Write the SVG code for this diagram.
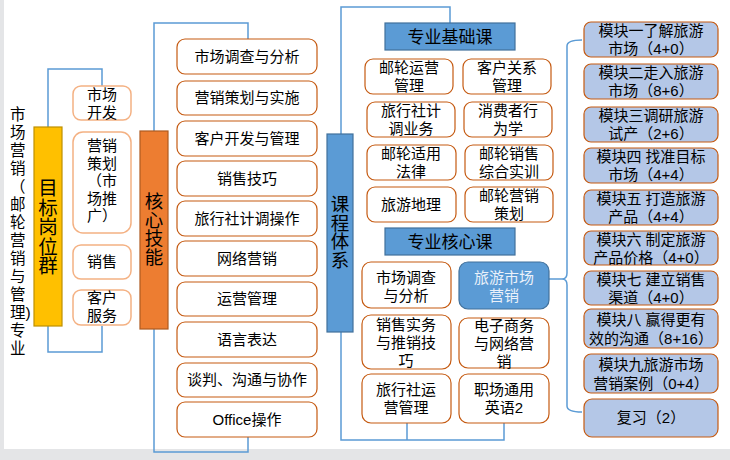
<svg xmlns="http://www.w3.org/2000/svg" width="730" height="460" viewBox="0 0 730 460">
<style>
text{font-family:"Liberation Sans","Noto Sans CJK SC",sans-serif;fill:#000;font-size:15px;text-anchor:middle}
.vt{writing-mode:vertical-rl;text-orientation:upright;font-family:"Noto Sans CJK SC",sans-serif}
.hdr{font-size:17px}
.box{fill:#fff;stroke:#F4B183;stroke-width:1.5}
.sk{fill:#fff;stroke:#C55A11;stroke-width:1.2}
.fd{fill:#fff;stroke:#C55A11;stroke-width:1.2}
.md{fill:#B4C7E7;stroke:#C55A11;stroke-width:1.2}
.bl{fill:#5B9BD5;stroke:#41719C;stroke-width:1.2}
.cn{fill:none;stroke:#5B9BD5;stroke-width:1.5}
</style>
<rect x="0" y="0" width="730" height="460" fill="#E4E5E7"/>
<rect x="4" y="0" width="726" height="449" fill="#fff"/>

<g id="connectors">
<path class="cn" d="M48 127 V69 H102 V86 M48 326 V352 H102 V326"/>
<path class="cn" d="M154 131 V23 H248 V39 M154 329 V452 H248 V437"/>
<path class="cn" d="M341 134 V7 H450 V23 M341 332 V440 H504 V423 M407 440 V423"/>
<path class="cn" d="M549 279 H562 Q567 279 567 273 V46 Q567 40 582 40 M562 279 Q567 279 567 285 V406 Q567 412 582 412"/>
</g>

<g id="title">
<text style="text-anchor:start;font-size:15.5px"><tspan x="10" y="120">市</tspan><tspan x="10" y="138">场</tspan><tspan x="10" y="156">营</tspan><tspan x="10" y="174">销</tspan><tspan x="10" y="192">（</tspan><tspan x="10" y="210">邮</tspan><tspan x="10" y="228">轮</tspan><tspan x="10" y="246">营</tspan><tspan x="10" y="264">销</tspan><tspan x="10" y="282">与</tspan><tspan x="10" y="300">管</tspan><tspan x="10" y="318">理)</tspan><tspan x="10" y="336">专</tspan><tspan x="10" y="354">业</tspan></text>
</g>

<g id="target-group">
<rect x="34" y="127" width="28" height="199" fill="#FFC000" stroke="#BF9000" stroke-width="1.2"/>
<text class="vt" x="48" y="227" style="font-size:19.5px">目标岗位群</text>
</g>
<g id="job1"><rect class="box" x="73" y="86" width="58" height="34" rx="8"/><text><tspan x="102" y="100">市场</tspan><tspan x="102" y="117.5">开发</tspan></text></g>
<g id="job2"><rect class="box" x="73" y="132" width="58" height="101" rx="10"/><text><tspan x="102" y="151">营销</tspan><tspan x="102" y="168.5">策划</tspan><tspan x="102" y="186">（市</tspan><tspan x="102" y="203.5">场推</tspan><tspan x="102" y="221">广）</tspan></text></g>
<g id="job3"><rect class="box" x="73" y="245" width="58" height="34" rx="8"/><text x="102" y="267">销售</text></g>
<g id="job4"><rect class="box" x="73" y="290" width="58" height="35" rx="8"/><text><tspan x="102" y="303">客户</tspan><tspan x="102" y="321">服务</tspan></text></g>

<g id="core-skills">
<rect x="140" y="131" width="28" height="198" fill="#ED7D31" stroke="#AE5A21" stroke-width="1.2"/>
<text class="vt" x="154" y="229" style="font-size:18.5px">核心技能</text>
</g>
<g id="skill1"><rect class="sk" x="177" y="39" width="140" height="35" rx="8"/><text x="247" y="62">市场调查与分析</text></g>
<g id="skill2"><rect class="sk" x="177" y="81" width="140" height="34" rx="8"/><text x="247" y="103">营销策划与实施</text></g>
<g id="skill3"><rect class="sk" x="177" y="121" width="140" height="35" rx="8"/><text x="247" y="144">客户开发与管理</text></g>
<g id="skill4"><rect class="sk" x="177" y="161" width="140" height="35" rx="8"/><text x="247" y="184">销售技巧</text></g>
<g id="skill5"><rect class="sk" x="177" y="201" width="140" height="35" rx="8"/><text x="247" y="224">旅行社计调操作</text></g>
<g id="skill6"><rect class="sk" x="177" y="241" width="140" height="35" rx="8"/><text x="247" y="264">网络营销</text></g>
<g id="skill7"><rect class="sk" x="177" y="282" width="140" height="34" rx="8"/><text x="247" y="304">运营管理</text></g>
<g id="skill8"><rect class="sk" x="177" y="322" width="140" height="35" rx="8"/><text x="247" y="345">语言表达</text></g>
<g id="skill9"><rect class="sk" x="177" y="363" width="140" height="34" rx="8"/><text x="247" y="385">谈判、沟通与协作</text></g>
<g id="skill10"><rect class="sk" x="177" y="402" width="140" height="35" rx="8"/><text x="247" y="425">Office操作</text></g>

<g id="curriculum">
<rect class="bl" x="327" y="134" width="26" height="198"/>
<text class="vt" x="340" y="232" style="font-size:18.5px">课程体系</text>
</g>

<g id="basic-header"><rect class="bl" x="385" y="23" width="130" height="27"/><text class="hdr" x="450" y="43">专业基础课</text></g>
<g id="basic1"><rect class="fd" x="365" y="59" width="88" height="35" rx="8"/><text><tspan x="409" y="73">邮轮运营</tspan><tspan x="409" y="91">管理</tspan></text></g>
<g id="basic2"><rect class="fd" x="463" y="59" width="88" height="35" rx="8"/><text><tspan x="507" y="73">客户关系</tspan><tspan x="507" y="91">管理</tspan></text></g>
<g id="basic3"><rect class="fd" x="367" y="102" width="88" height="35" rx="8"/><text><tspan x="411" y="116">旅行社计</tspan><tspan x="411" y="134">调业务</tspan></text></g>
<g id="basic4"><rect class="fd" x="464" y="102" width="88" height="35" rx="8"/><text><tspan x="508" y="116">消费者行</tspan><tspan x="508" y="134">为学</tspan></text></g>
<g id="basic5"><rect class="fd" x="367" y="145" width="89" height="35" rx="8"/><text><tspan x="411" y="159">邮轮适用</tspan><tspan x="411" y="177">法律</tspan></text></g>
<g id="basic6"><rect class="fd" x="465" y="145" width="88" height="35" rx="8"/><text><tspan x="509" y="159">邮轮销售</tspan><tspan x="509" y="177">综合实训</tspan></text></g>
<g id="basic7"><rect class="fd" x="367" y="187" width="89" height="35" rx="8"/><text x="411" y="210">旅游地理</text></g>
<g id="basic8"><rect class="fd" x="465" y="187" width="88" height="35" rx="8"/><text><tspan x="509" y="201">邮轮营销</tspan><tspan x="509" y="219">策划</tspan></text></g>

<g id="core-header"><rect class="bl" x="385" y="228" width="130" height="27"/><text class="hdr" x="450" y="248">专业核心课</text></g>
<g id="core1"><rect class="fd" x="362" y="262" width="89" height="46" rx="9"/><text><tspan x="406" y="283">市场调查</tspan><tspan x="406" y="300.5">与分析</tspan></text></g>
<g id="core2"><rect class="bl" x="459" y="262" width="90" height="47" rx="9"/><text style="fill:#EAF1FA"><tspan x="504" y="283">旅游市场</tspan><tspan x="504" y="300.5">营销</tspan></text></g>
<g id="core3"><rect class="fd" x="362" y="315" width="89" height="54" rx="9"/><text><tspan x="406" y="330">销售实务</tspan><tspan x="406" y="348">与推销技</tspan><tspan x="406" y="366">巧</tspan></text></g>
<g id="core4"><rect class="fd" x="459" y="318" width="90" height="50" rx="9"/><text><tspan x="504" y="331">电子商务</tspan><tspan x="504" y="349">与网络营</tspan><tspan x="504" y="367">销</tspan></text></g>
<g id="core5"><rect class="fd" x="362" y="374" width="89" height="49" rx="9"/><text><tspan x="406" y="395">旅行社运</tspan><tspan x="406" y="413">营管理</tspan></text></g>
<g id="core6"><rect class="fd" x="459" y="374" width="90" height="49" rx="9"/><text><tspan x="504" y="395">职场通用</tspan><tspan x="504" y="413">英语2</tspan></text></g>

<g id="m1"><rect class="md" x="584" y="22" width="134" height="35" rx="7"/><text><tspan x="651" y="36">模块一了解旅游</tspan><tspan x="651" y="54">市场（4+0）</tspan></text></g>
<g id="m2"><rect class="md" x="584" y="64" width="134" height="35" rx="7"/><text><tspan x="651" y="78">模块二走入旅游</tspan><tspan x="651" y="96">市场（8+6）</tspan></text></g>
<g id="m3"><rect class="md" x="584" y="107" width="134" height="35" rx="7"/><text><tspan x="651" y="121">模块三调研旅游</tspan><tspan x="651" y="139">试产（2+6）</tspan></text></g>
<g id="m4"><rect class="md" x="584" y="148" width="134" height="35" rx="7"/><text><tspan x="651" y="162">模块四 找准目标</tspan><tspan x="651" y="180">市场（4+4）</tspan></text></g>
<g id="m5"><rect class="md" x="584" y="190" width="134" height="35" rx="7"/><text><tspan x="651" y="204">模块五 打造旅游</tspan><tspan x="651" y="222">产品（4+4）</tspan></text></g>
<g id="m6"><rect class="md" x="584" y="231" width="134" height="34" rx="7"/><text><tspan x="651" y="245">模块六 制定旅游</tspan><tspan x="651" y="263">产品价格（4+0）</tspan></text></g>
<g id="m7"><rect class="md" x="584" y="271" width="134" height="34" rx="7"/><text><tspan x="651" y="285">模块七 建立销售</tspan><tspan x="651" y="303">渠道（4+0）</tspan></text></g>
<g id="m8"><rect class="md" x="584" y="309" width="134" height="39" rx="7"/><text><tspan x="651" y="325">模块八 赢得更有</tspan><tspan x="651" y="344">效的沟通（8+16）</tspan></text></g>
<g id="m9"><rect class="md" x="584" y="354" width="134" height="39" rx="7"/><text><tspan x="651" y="370">模块九旅游市场</tspan><tspan x="651" y="389">营销案例（0+4）</tspan></text></g>
<g id="m10"><rect class="md" x="584" y="399" width="134" height="38" rx="8"/><text x="651" y="423">复习（2）</text></g>
</svg>
